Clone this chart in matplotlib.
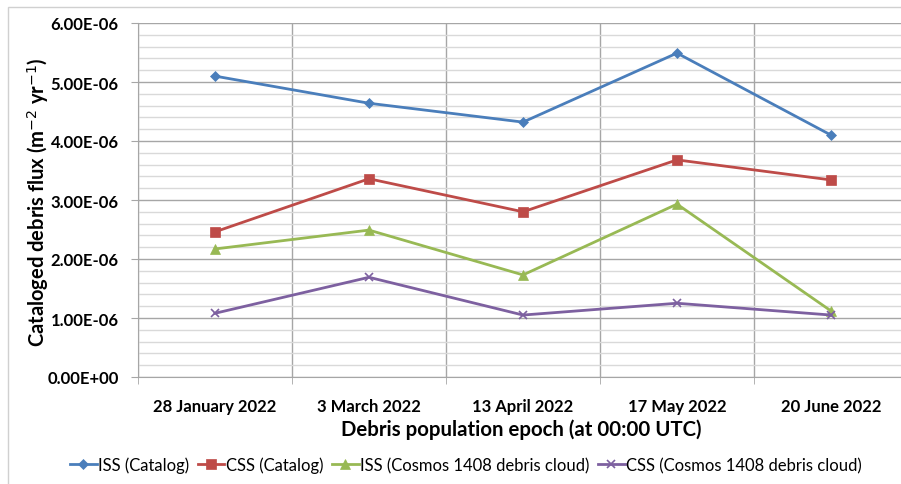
import matplotlib
matplotlib.use("Agg")
import matplotlib.pyplot as plt
from matplotlib.ticker import MultipleLocator, FuncFormatter, FixedLocator
from matplotlib.patches import Rectangle

categories = ["28 January 2022", "3 March 2022", "13 April 2022", "17 May 2022", "20 June 2022"]
iss_catalog = [5.10e-6, 4.64e-6, 4.32e-6, 5.49e-6, 4.10e-6]
css_catalog = [2.46e-6, 3.36e-6, 2.80e-6, 3.68e-6, 3.34e-6]
iss_cosmos = [2.17e-6, 2.49e-6, 1.73e-6, 2.93e-6, 1.12e-6]
css_cosmos = [1.08e-6, 1.69e-6, 1.05e-6, 1.25e-6, 1.05e-6]
series_names = ["ISS (Catalog)", "CSS (Catalog)", "ISS (Cosmos 1408 debris cloud)", "CSS (Cosmos 1408 debris cloud)"]

plt.rcParams['font.family'] = ['Lato', 'DejaVu Sans']

W, H = 901, 485
fig = plt.figure(figsize=(W/100, H/100), dpi=100)
fig.patches.append(Rectangle((8/W, -0.1), 1.2, 1 - 8/H + 0.1, transform=fig.transFigure,
                             fill=False, edgecolor="#d0d0d0", linewidth=1.0))

ax = fig.add_axes([138/W, 1 - 378/H, (W - 138)/W, (378 - 24)/H])
x = list(range(len(categories)))
styles = [
    (iss_catalog, "#4a7ebb", "D", 5),
    (css_catalog, "#be4b48", "s", 7),
    (iss_cosmos, "#98b954", "^", 7),
    (css_cosmos, "#7d60a0", "x", 6),
]
for (vals, c, m, ms), name in zip(styles, series_names):
    ax.plot(x, vals, color=c, marker=m, markersize=ms, linewidth=2.0, label=name,
            markeredgewidth=1.2 if m == "x" else 0.5, markeredgecolor=c)

ax.set_xlim(-0.5, -0.5 + (W - 138) / 154)
ax.set_ylim(0, 6e-6)
ax.yaxis.set_major_locator(MultipleLocator(1e-6))
ax.yaxis.set_minor_locator(MultipleLocator(0.2e-6))
ax.yaxis.set_major_formatter(FuncFormatter(lambda v, p: "{:.2E}".format(v)))
ax.xaxis.set_major_locator(FixedLocator(x))
ax.set_xticklabels(categories)
ax.xaxis.set_minor_locator(FixedLocator([i - 0.5 for i in range(len(categories) + 1)]))

ax.grid(which="major", axis="y", color="#a6a6a6", linewidth=1.0)
ax.grid(which="minor", axis="y", color="#d9d9d9", linewidth=1.0)
ax.grid(which="minor", axis="x", color="#a6a6a6", linewidth=1.0)
ax.set_axisbelow(True)
for s in ["top", "right"]:
    ax.spines[s].set_visible(False)
ax.spines["left"].set_color("#a6a6a6")
ax.spines["bottom"].set_color("#a6a6a6")
ax.tick_params(axis="y", which="major", length=5, color="#a6a6a6", labelsize=12, pad=9)
ax.tick_params(axis="y", which="minor", length=0)
ax.tick_params(axis="x", which="major", length=0, labelsize=12, pad=15)
ax.tick_params(axis="x", which="minor", length=5, color="#a6a6a6")
for lab in ax.get_xticklabels() + ax.get_yticklabels():
    lab.set_fontweight("bold")

fig.text(38/W, 1 - 202/H, "Cataloged debris flux (m$^{-2}$ yr$^{-1}$)", rotation=90,
         ha="center", va="center", fontsize=14.5, fontweight="bold")
fig.text(521/W, 1 - 430/H, "Debris population epoch (at 00:00 UTC)",
         ha="center", va="center", fontsize=14.7, fontweight="bold")
fig.legend(loc="center", bbox_to_anchor=(466/W, 1 - 466/H), ncol=4, frameon=False,
           fontsize=12, handlelength=1.6, handletextpad=0.1, columnspacing=0.5)

fig.savefig("out.png", dpi=100)
